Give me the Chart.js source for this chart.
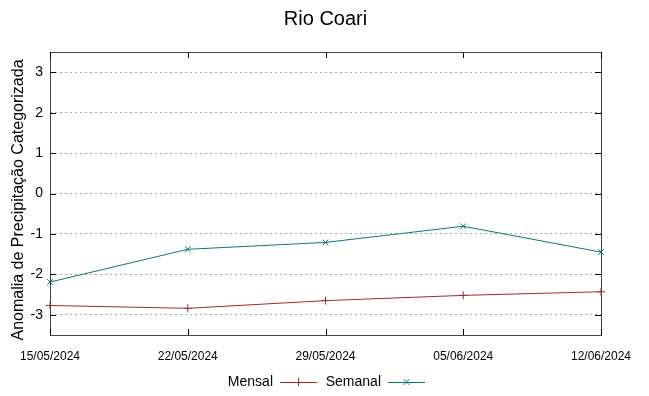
<!DOCTYPE html>
<html>
<head>
<meta charset="utf-8">
<script src="https://cdn.jsdelivr.net/npm/chart.js@4"></script>
<style>
  html, body { margin: 0; padding: 0; background: #fff; }
  #wrap { width: 649px; height: 396px; }
</style>
</head>
<body>
<div id="wrap"><canvas id="coariChart" width="649" height="396"></canvas></div>
<script>
// Weekly dates and anomaly values
const dates = ['15/05/2024', '22/05/2024', '29/05/2024', '05/06/2024', '12/06/2024'];
const mensal = [-2.77, -2.84, -2.65, -2.52, -2.43];
const semanal = [-2.19, -1.38, -1.21, -0.81, -1.45];
const yTicks = [-3, -2, -1, 0, 1, 2, 3];
const yTitle = 'Anomalia de Precipitação Categorizada';

const mensalColor = '#a52a2a';
const semanalColor = '#0b7676';
const fontName = '"Liberation Sans", Arial, sans-serif';

// Title, axis title, full box, inward ticks and the bottom legend
const frame = {
    id: 'frame',
    afterDraw(chart) {
        const ctx = chart.ctx;
        const a = chart.chartArea;
        const xs = chart.scales.x;
        const ys = chart.scales.y;
        ctx.save();

        ctx.fillStyle = '#000';
        ctx.font = '20px ' + fontName;
        ctx.textAlign = 'center';
        ctx.textBaseline = 'middle';
        ctx.fillText('Rio Coari', (a.left + a.right) / 2, 19);

        ctx.save();
        ctx.translate(19, 200);
        ctx.rotate(-Math.PI / 2);
        ctx.font = '16px ' + fontName;
        ctx.fillText(yTitle, 0, 0);
        ctx.restore();

        ctx.strokeStyle = '#444';
        ctx.lineWidth = 1;
        ctx.strokeRect(a.left + 0.5, a.top + 0.5, a.right - a.left, a.bottom - a.top);

        ctx.strokeStyle = '#000';
        ctx.beginPath();
        yTicks.forEach(v => {
            const y = Math.round(ys.getPixelForValue(v)) + 0.5;
            ctx.moveTo(a.left, y); ctx.lineTo(a.left + 6, y);
            ctx.moveTo(a.right, y); ctx.lineTo(a.right - 6, y);
        });
        dates.forEach((d, i) => {
            const x = Math.round(xs.getPixelForValue(i)) + 0.5;
            ctx.moveTo(x, a.bottom); ctx.lineTo(x, a.bottom - 6);
            ctx.moveTo(x, a.top); ctx.lineTo(x, a.top + 6);
        });
        ctx.stroke();

        // legend: text then line sample
        ctx.font = '14px ' + fontName;
        ctx.textAlign = 'right';
        const ly = 382;
        const items = [
            { label: 'Mensal', color: mensalColor, x: 273, cross: false },
            { label: 'Semanal', color: semanalColor, x: 381, cross: true }
        ];
        items.forEach(it => {
            ctx.fillStyle = '#000';
            ctx.fillText(it.label, it.x, ly);
            const x0 = it.x + 7, x1 = it.x + 44, xm = (x0 + x1) / 2;
            ctx.strokeStyle = it.color;
            ctx.beginPath();
            ctx.moveTo(x0, ly + 0.5); ctx.lineTo(x1, ly + 0.5);
            if (it.cross) {
                ctx.moveTo(xm - 3, ly - 3); ctx.lineTo(xm + 3, ly + 3);
                ctx.moveTo(xm - 3, ly + 3); ctx.lineTo(xm + 3, ly - 3);
            } else {
                ctx.moveTo(xm, ly - 4); ctx.lineTo(xm, ly + 4);
            }
            ctx.stroke();
        });
        ctx.restore();
    }
};

const chart = new Chart(document.getElementById('coariChart').getContext('2d'), {
    type: 'line',
    data: {
        labels: dates,
        datasets: [{
            label: 'Mensal',
            data: mensal,
            borderColor: mensalColor,
            backgroundColor: mensalColor,
            borderWidth: 1,
            pointStyle: 'cross',
            pointRadius: 4,
            pointBorderWidth: 1,
            tension: 0
        }, {
            label: 'Semanal',
            data: semanal,
            borderColor: semanalColor,
            backgroundColor: semanalColor,
            borderWidth: 1,
            pointStyle: 'crossRot',
            pointRadius: 4,
            pointBorderWidth: 1,
            tension: 0
        }]
    },
    options: {
        responsive: false,
        animation: false,
        layout: { padding: { top: 52, right: 48, bottom: 0, left: 0 } },
        plugins: {
            legend: { display: false },
            title: { display: false },
            tooltip: { enabled: false }
        },
        scales: {
            x: {
                type: 'category',
                offset: false,
                grid: { display: false, drawTicks: false },
                border: { display: false },
                ticks: {
                    color: '#000',
                    font: { family: fontName, size: 12 },
                    padding: 14,
                    maxRotation: 0,
                    autoSkip: false
                },
                afterFit(s) { s.height = 61; }
            },
            y: {
                min: -3.5,
                max: 3.5,
                afterBuildTicks(s) { s.ticks = yTicks.map(v => ({ value: v })); },
                grid: {
                    color: '#a8a8a8',
                    lineWidth: 1,
                    drawTicks: false
                },
                border: { display: false, dash: [2, 3] },
                ticks: {
                    color: '#000',
                    font: { family: fontName, size: 14 },
                    padding: 7
                },
                afterFit(s) { s.width = 50; }
            }
        }
    },
    plugins: [frame]
});
</script>
</body>
</html>
